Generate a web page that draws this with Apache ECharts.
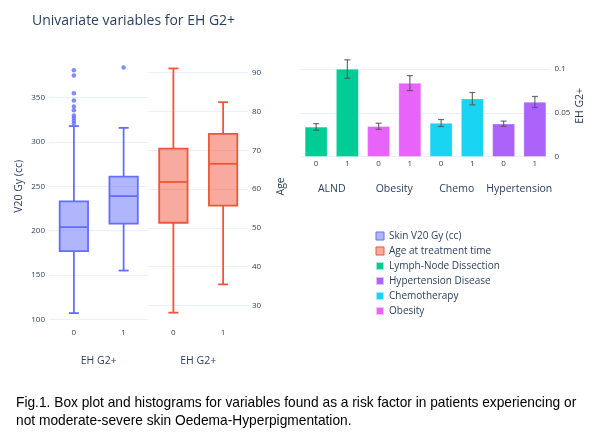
<!DOCTYPE html>
<html lang="en">
<head>
<meta charset="UTF-8">
<title>Univariate variables for EH G2+</title>
<script src="https://cdn.jsdelivr.net/npm/echarts@6/dist/echarts.min.js"></script>
<style>
    html, body { margin: 0; padding: 0; background: #fff; }
    #chart { width: 600px; height: 433px; }
</style>
</head>
<body>
<div id="chart"></div>
<script type="text/javascript">
    // categories
    var ehGroups = ['0', '1'];
    var barCats = ['0', '1', '0', '1', '0', '1', '0', '1'];
    var barGroups = ['ALND', 'Obesity', 'Chemo', 'Hypertension'];

    // box stats: [lower whisker, q1, median, q3, upper whisker] for EH G2+ = 0 / 1
    var v20Box = [[107, 177, 204, 233, 318], [155, 208, 239, 261, 316]];
    var v20Outliers0 = [321, 324, 327, 330, 336, 340, 347, 355, 375, 381];
    var v20Outliers1 = [384];
    var ageBox = [[28.1, 51.3, 61.8, 70.4, 91.1], [35.4, 55.7, 66.5, 74.2, 82.4]];

    // EH G2+ rate for variable = 0 / 1, with error half-width
    var alndRate = [0.034, 0.100];
    var alndErr = [0.0037, 0.0105];
    var obesityRate = [0.0347, 0.084];
    var obesityErr = [0.0035, 0.0085];
    var chemoRate = [0.0384, 0.0662];
    var chemoErr = [0.004, 0.007];
    var hyperRate = [0.0376, 0.0624];
    var hyperErr = [0.003, 0.0063];

    var textColor = '#2a3f5f';
    var gridColor = '#EBF0F8';
    var font = 'Open Sans';

    var myChart = echarts.init(document.getElementById('chart'));

    // put a pair of values at their two slots of the 8-category axis
    function slot(values, start) {
        var out = barCats.map(function () { return '-'; });
        out[start] = values[0];
        out[start + 1] = values[1];
        return out;
    }

    var errData = [];
    [[alndRate, alndErr], [obesityRate, obesityErr], [chemoRate, chemoErr], [hyperRate, hyperErr]].forEach(function (p, g) {
        for (var i = 0; i < 2; i++) {
            errData.push([g * 2 + i, p[0][i] - p[1][i], p[0][i] + p[1][i]]);
        }
    });

    function boxData(stats) {
        return stats.map(function (s, i) { return [i].concat(s); });
    }

    function boxItem(stroke, fill) {
        return function (params, api) {
            var x = api.value(0);
            var lo = api.coord([x, api.value(1)]);
            var q1 = api.coord([x, api.value(2)]);
            var md = api.coord([x, api.value(3)]);
            var q3 = api.coord([x, api.value(4)]);
            var hi = api.coord([x, api.value(5)]);
            var w = api.size([1, 0])[0] * 0.57;
            var cx = lo[0];
            var cap = 5;
            var ls = { stroke: stroke, lineWidth: 1.8, fill: null };
            return {
                type: 'group',
                children: [
                    { type: 'line', shape: { x1: cx, y1: hi[1], x2: cx, y2: q3[1] }, style: ls },
                    { type: 'line', shape: { x1: cx, y1: q1[1], x2: cx, y2: lo[1] }, style: ls },
                    { type: 'line', shape: { x1: cx - cap, y1: hi[1], x2: cx + cap, y2: hi[1] }, style: ls },
                    { type: 'line', shape: { x1: cx - cap, y1: lo[1], x2: cx + cap, y2: lo[1] }, style: ls },
                    { type: 'rect', shape: { x: cx - w / 2, y: q3[1], width: w, height: q1[1] - q3[1] },
                      style: { fill: fill, stroke: stroke, lineWidth: 1.8 } },
                    { type: 'line', shape: { x1: cx - w / 2, y1: md[1], x2: cx + w / 2, y2: md[1] }, style: ls }
                ]
            };
        };
    }

    function errItem(params, api) {
        var x = api.value(0);
        var lo = api.coord([x, api.value(1)]);
        var hi = api.coord([x, api.value(2)]);
        var cx = lo[0];
        var ls = { stroke: '#555', lineWidth: 1.2, fill: null, opacity: 0.85 };
        return {
            type: 'group',
            children: [
                { type: 'line', shape: { x1: cx, y1: lo[1], x2: cx, y2: hi[1] }, style: ls },
                { type: 'line', shape: { x1: cx - 3, y1: lo[1], x2: cx + 3, y2: lo[1] }, style: ls },
                { type: 'line', shape: { x1: cx - 3, y1: hi[1], x2: cx + 3, y2: hi[1] }, style: ls }
            ]
        };
    }

    var tickLabel = { color: textColor, fontFamily: font, fontSize: 8 };
    var axisName = { color: textColor, fontFamily: font, fontSize: 10.5 };

    var option = {
        animation: false,
        backgroundColor: '#fff',
        title: {
            text: 'Univariate variables for EH G2+',
            left: 27,
            top: 9,
            textStyle: { color: textColor, fontFamily: font, fontSize: 14, fontWeight: 'normal' }
        },
        legend: {
            orient: 'vertical',
            left: 375,
            top: 229,
            padding: 0,
            itemWidth: 8,
            itemHeight: 8,
            itemGap: 1,
            textStyle: { color: textColor, fontFamily: font, fontSize: 10, lineHeight: 14 },
            data: [
                { name: 'Skin V20 Gy (cc)', icon: 'rect',
                  itemStyle: { color: 'rgba(99,110,250,0.5)', borderColor: '#636EFA', borderWidth: 1 } },
                { name: 'Age at treatment time', icon: 'rect',
                  itemStyle: { color: 'rgba(239,85,59,0.5)', borderColor: '#EF553B', borderWidth: 1 } },
                { name: 'Lymph-Node Dissection', icon: 'rect' },
                { name: 'Hypertension Disease', icon: 'rect' },
                { name: 'Chemotherapy', icon: 'rect' },
                { name: 'Obesity', icon: 'rect' }
            ]
        },
        grid: [
            { left: 49, top: 53.4, width: 99.5, height: 265.9 },
            { left: 148.5, top: 53.4, width: 99.5, height: 265.9 },
            { left: 300.5, top: 55, width: 250, height: 101.7 }
        ],
        xAxis: [
            { type: 'category', gridIndex: 0, data: ehGroups,
              axisLine: { show: false }, axisTick: { show: false },
              axisLabel: Object.assign({ margin: 9 }, tickLabel),
              name: 'EH G2+', nameLocation: 'middle', nameGap: 36, nameTextStyle: axisName },
            { type: 'category', gridIndex: 1, data: ehGroups,
              axisLine: { show: false }, axisTick: { show: false },
              axisLabel: Object.assign({ margin: 9 }, tickLabel),
              name: 'EH G2+', nameLocation: 'middle', nameGap: 36, nameTextStyle: axisName },
            { type: 'category', gridIndex: 2, data: barCats,
              axisLine: { show: false }, axisTick: { show: false },
              axisLabel: Object.assign({ margin: 3, interval: 0 }, tickLabel) },
            { type: 'category', gridIndex: 2, data: barGroups, position: 'bottom', offset: 19,
              axisLine: { show: false }, axisTick: { show: false },
              axisLabel: { color: textColor, fontFamily: font, fontSize: 10.5, margin: 8, interval: 0, hideOverlap: false } }
        ],
        yAxis: [
            { type: 'value', gridIndex: 0, min: 100, max: 400, interval: 50,
              axisLine: { show: false }, axisTick: { show: false },
              splitLine: { lineStyle: { color: gridColor }, showMaxLine: false },
              axisLabel: Object.assign({ margin: 4, showMaxLabel: false }, tickLabel),
              name: 'V20 Gy (cc)', nameLocation: 'middle', nameGap: 24, nameTextStyle: axisName },
            { type: 'value', gridIndex: 1, position: 'right', min: 26.39, max: 94.98,
              axisLine: { show: false }, axisTick: { show: false },
              splitLine: { lineStyle: { color: gridColor }, showMinLine: false, showMaxLine: false },
              axisLabel: Object.assign({ margin: 4, showMinLabel: false, showMaxLabel: false }, tickLabel),
              name: 'Age', nameLocation: 'middle', nameGap: 28, nameRotate: 90, nameTextStyle: axisName },
            { type: 'value', gridIndex: 2, position: 'right', min: 0, max: 0.116, interval: 0.05,
              axisLine: { show: false }, axisTick: { show: false },
              splitLine: { lineStyle: { color: gridColor }, showMaxLine: false },
              axisLabel: Object.assign({ margin: 4, showMaxLabel: false }, tickLabel),
              name: 'EH G2+', nameLocation: 'middle', nameGap: 21, nameRotate: 90, nameTextStyle: axisName }
        ],
        series: [
            { name: 'Skin V20 Gy (cc)', type: 'custom', xAxisIndex: 0, yAxisIndex: 0,
              itemStyle: { color: 'rgba(99,110,250,0.5)' },
              renderItem: boxItem('#636EFA', 'rgba(99,110,250,0.5)'),
              encode: { x: 0, y: [1, 2, 3, 4, 5] }, data: boxData(v20Box) },
            { name: 'v20 outliers', type: 'scatter', xAxisIndex: 0, yAxisIndex: 0,
              symbolSize: 4.5, itemStyle: { color: '#636EFA' },
              data: v20Outliers0.map(function (v) { return [0, v]; })
                  .concat(v20Outliers1.map(function (v) { return [1, v]; })) },
            { name: 'Age at treatment time', type: 'custom', xAxisIndex: 1, yAxisIndex: 1,
              itemStyle: { color: 'rgba(239,85,59,0.5)' },
              renderItem: boxItem('#EF553B', 'rgba(239,85,59,0.5)'),
              encode: { x: 0, y: [1, 2, 3, 4, 5] }, data: boxData(ageBox) },
            { name: 'Lymph-Node Dissection', type: 'bar', xAxisIndex: 2, yAxisIndex: 2,
              barWidth: '72%', barGap: '-100%',
              itemStyle: { color: '#00CC96', borderColor: 'rgba(255,255,255,0.6)', borderWidth: 0.5 },
              data: slot(alndRate, 0) },
            { name: 'Obesity', type: 'bar', xAxisIndex: 2, yAxisIndex: 2,
              barWidth: '72%', barGap: '-100%',
              itemStyle: { color: '#E763FA', borderColor: 'rgba(255,255,255,0.6)', borderWidth: 0.5 },
              data: slot(obesityRate, 2) },
            { name: 'Chemotherapy', type: 'bar', xAxisIndex: 2, yAxisIndex: 2,
              barWidth: '72%', barGap: '-100%',
              itemStyle: { color: '#19D3F3', borderColor: 'rgba(255,255,255,0.6)', borderWidth: 0.5 },
              data: slot(chemoRate, 4) },
            { name: 'Hypertension Disease', type: 'bar', xAxisIndex: 2, yAxisIndex: 2,
              barWidth: '72%', barGap: '-100%',
              itemStyle: { color: '#AB63FA', borderColor: 'rgba(255,255,255,0.6)', borderWidth: 0.5 },
              data: slot(hyperRate, 6) },
            { name: 'error', type: 'custom', xAxisIndex: 2, yAxisIndex: 2, z: 5,
              renderItem: errItem, encode: { x: 0, y: [1, 2] }, data: errData }
        ],
        graphic: [
            { type: 'text', left: 16, top: 396,
              style: { text: 'Fig.1. Box plot and histograms for variables found as a risk factor in patients experiencing or',
                       fill: '#000', font: '13.75px "Liberation Sans"' } },
            { type: 'text', left: 16, top: 414,
              style: { text: 'not moderate-severe skin Oedema-Hyperpigmentation.',
                       fill: '#000', font: '13.75px "Liberation Sans"' } }
        ]
    };

    myChart.setOption(option);
</script>
</body>
</html>
